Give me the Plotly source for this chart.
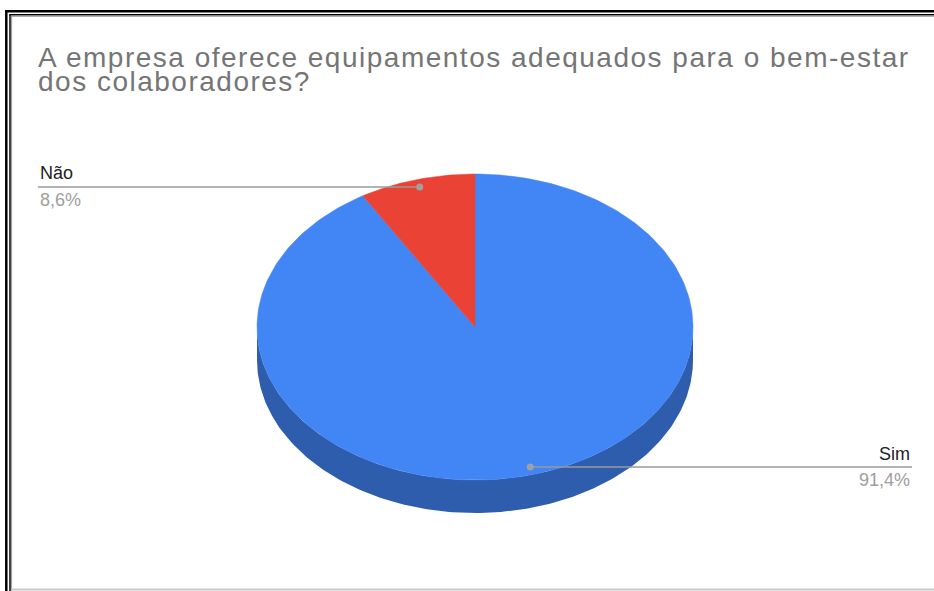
import numpy as np
import plotly.graph_objects as go

# Survey answers (share of respondents, %)
categories = ["Sim", "Não"]
values = [91.4, 8.6]
top_colors = ["#4285F4", "#EA4335"]
side_colors = ["#2E5DAE", "#A8322A"]

title_lines = ["A empresa oferece equipamentos adequados para o bem-estar",
               "dos colaboradores?"]

W, H = 934, 591

# 3D pie geometry (pixel space of the canvas)
cx, cy = 475, 327
rx, ry = 218, 153
depth = 33


def pt(t_deg, k=1.0, dz=0.0):
    t = np.radians(t_deg)
    return cx + k * rx * np.cos(t), cy - k * ry * np.sin(t) + dz


fig = go.Figure()

total = sum(values)
bounds = np.concatenate([[0], np.cumsum(values)]) / total * 360.0
# slices run clockwise from 12 o'clock
t_start = 90 - bounds[:-1]
t_end = 90 - bounds[1:]

# side walls (front half only, i.e. t in [-180, 0])
for i in range(len(values)):
    a = max(t_end[i], -180.0)
    b = min(t_start[i], 0.0)
    if a >= b:
        continue
    ts = np.linspace(b, a, 200)
    xt, yt = pt(ts)
    xb, yb = pt(ts[::-1], dz=depth)
    fig.add_trace(go.Scatter(
        x=np.concatenate([xt, xb]), y=np.concatenate([yt, yb]),
        fill="toself", fillcolor=side_colors[i], mode="lines",
        line=dict(width=0, color=side_colors[i]), hoverinfo="skip",
        showlegend=False))

# top faces
for i in range(len(values)):
    ts = np.linspace(t_start[i], t_end[i], 300)
    xs, ys = pt(ts)
    fig.add_trace(go.Scatter(
        x=np.concatenate([[cx], xs, [cx]]), y=np.concatenate([[cy], ys, [cy]]),
        fill="toself", fillcolor=top_colors[i], mode="lines",
        line=dict(width=0.5, color=top_colors[i]), hoverinfo="skip",
        showlegend=False))

# leader lines and labels
annotations = []
for i, (cat, v) in enumerate(zip(categories, values)):
    tm = (t_start[i] + t_end[i]) / 2
    dx, dy = pt(tm, k=0.95)
    if dx < cx:
        x_end, anchor = 38, "left"
    else:
        x_end, anchor = 912, "right"
    fig.add_trace(go.Scatter(
        x=[dx, x_end], y=[dy, dy], mode="lines",
        line=dict(color="#9a9a9a", width=1.5), hoverinfo="skip",
        showlegend=False))
    fig.add_trace(go.Scatter(
        x=[dx], y=[dy], mode="markers",
        marker=dict(color="#a0a0a0", size=7), hoverinfo="skip",
        showlegend=False))
    annotations.append(dict(
        x=x_end, y=dy - 1.5, xref="x", yref="y", text=cat, showarrow=False,
        xanchor=anchor, yanchor="bottom",
        font=dict(family="Liberation Sans, Arial", size=18, color="#222222")))
    pct = f"{v:.1f}".replace(".", ",") + "%"
    annotations.append(dict(
        x=x_end, y=dy + 1.0, xref="x", yref="y", text=pct, showarrow=False,
        xanchor=anchor, yanchor="top",
        font=dict(family="Liberation Sans, Arial", size=18, color="#9e9e9e")))

# title, two tightly spaced lines
for j, line in enumerate(title_lines):
    annotations.append(dict(
        x=36, y=39.5 + j * 24, xref="x", yref="y",
        text=f'<span style="letter-spacing:1.5px">{line}</span>',
        showarrow=False, xanchor="left", yanchor="top",
        font=dict(family="Liberation Sans, Arial", size=28, color="#757575")))

# double frame around the chart
shapes = [
    dict(type="line", xref="x", yref="y", x0=6.3, x1=6.3, y0=10, y1=H,
         line=dict(color="black", width=2.5)),
    dict(type="line", xref="x", yref="y", x0=5, x1=W, y0=11.2, y1=11.2,
         line=dict(color="black", width=2.5)),
    dict(type="line", xref="x", yref="y", x0=10, x1=10, y0=14, y1=H,
         line=dict(color="black", width=1.5)),
    dict(type="line", xref="x", yref="y", x0=9.5, x1=W, y0=14.8, y1=14.8,
         line=dict(color="black", width=1.5)),
    dict(type="line", xref="x", yref="y", x0=11.6, x1=11.6, y0=16, y1=H,
         line=dict(color="#9a9a9a", width=1)),
    dict(type="line", xref="x", yref="y", x0=11.5, x1=W, y0=16.3, y1=16.3,
         line=dict(color="#9a9a9a", width=1)),
    dict(type="line", xref="x", yref="y", x0=11, x1=W, y0=589.5, y1=589.5,
         line=dict(color="#c8c8c8", width=2)),
]

fig.update_layout(
    width=W, height=H,
    margin=dict(l=0, r=0, t=0, b=0),
    paper_bgcolor="white", plot_bgcolor="white",
    xaxis=dict(range=[0, W], visible=False, fixedrange=True),
    yaxis=dict(range=[H, 0], visible=False, fixedrange=True),
    annotations=annotations, shapes=shapes,
    showlegend=False,
)

fig.write_html("out.html")
